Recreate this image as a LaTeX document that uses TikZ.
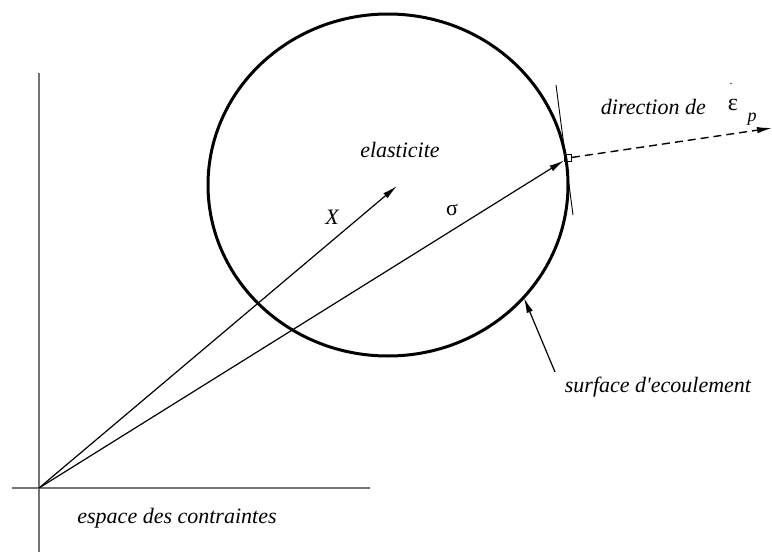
\documentclass[tikz,border=0pt]{standalone}
\usepackage{fontspec}
\setmainfont{Liberation Serif}
\usetikzlibrary{arrows.meta}
\begin{document}
\begin{tikzpicture}[x=1pt,y=-1pt,
  vec/.style={line width=1.2pt, -{Latex[length=15pt,width=6.5pt]}},
  lbl/.style={font=\fontsize{22}{26}\selectfont\itshape, inner sep=0pt},
  sym/.style={font=\fontsize{22}{26}\selectfont, inner sep=0pt},
  axisline/.style={line width=1.7pt, draw=black!55},
  thinline/.style={line width=0.9pt}]
\useasboundingbox (0,0) rectangle (772,554);
% axes
\coordinate (O) at (39,488);
\coordinate (ytop) at (39,73);
\coordinate (ybot) at (39,552);
\coordinate (xa) at (12,488);
\coordinate (xb) at (370,488);
\draw[axisline] (ytop) -- (ybot);
\draw[axisline] (xa) -- (xb);
% yield surface
\draw[line width=3pt] (388,185) ellipse [x radius=180, y radius=171];
% point on surface
\node[draw, minimum size=7pt, inner sep=0pt, line width=0.9pt] (P) at (568,158) {};
% tangent
\coordinate (T1) at (556,85);
\coordinate (T2) at (573,215);
\draw[thinline] (T1) -- (T2);
% vectors
\coordinate (Xt) at (397,186);
\draw[vec] (O) -- (Xt);
\draw[vec] (O) -- (P);
\coordinate (D) at (772,128);
\draw[line width=1.4pt, dash pattern=on 8pt off 5pt, -{Latex[length=15pt,width=6.5pt]}] (P) -- (D);
% labels
\node[lbl] (el) at (400,150) {elasticite};
\node[lbl] (xl) at (332,217) {X};
\node[sym] (sg) at (452,210) {σ};
\node[lbl, anchor=east] (dir) at (706,107) {direction de};
\node[sym, font=\fontsize{24}{26}\selectfont] (eps) at (733,105) {ε};
\node[sym, font=\fontsize{12}{12}\selectfont] (dot) at (731,84) {.};
\node[lbl, font=\fontsize{18}{20}\selectfont\itshape] (p) at (752,119) {p};
\node[lbl] (surf) at (658,387) {surface d\textquotesingle ecoulement};
\coordinate (S1) at (555,372);
\coordinate (S2) at (524,298);
\draw[vec] (S1) -- (S2);
\node[lbl] (esp) at (177,518) {espace des contraintes};
\end{tikzpicture}
\end{document}
